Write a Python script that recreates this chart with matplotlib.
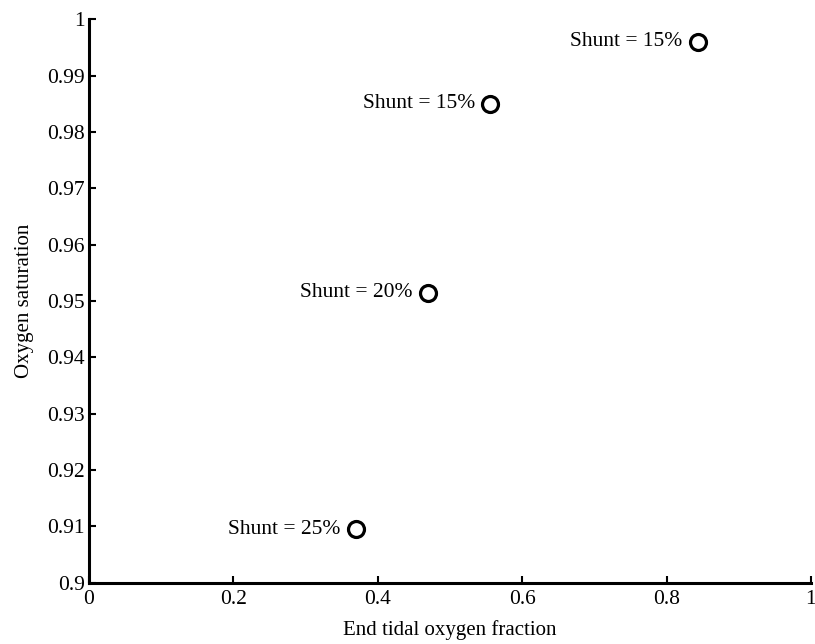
import matplotlib
matplotlib.use("Agg")
import matplotlib.pyplot as plt

# End tidal O2 fraction vs. arterial saturation for several shunt levels
end_tidal_o2 = [0.843, 0.556, 0.47, 0.37]
saturation = [0.996, 0.985, 0.9515, 0.9095]
labels = ["Shunt = 15%", "Shunt = 15%", "Shunt = 20%", "Shunt = 25%"]

x_ticks = [0, 0.2, 0.4, 0.6, 0.8, 1]
x_tick_labels = ["0", "0.2", "0.4", "0.6", "0.8", "1"]
y_ticks = [0.9, 0.91, 0.92, 0.93, 0.94, 0.95, 0.96, 0.97, 0.98, 0.99, 1]
y_tick_labels = ["0.9", "0.91", "0.92", "0.93", "0.94", "0.95", "0.96",
                 "0.97", "0.98", "0.99", "1"]

plt.rcParams["font.family"] = ["Liberation Serif", "DejaVu Serif"]

fig = plt.figure(figsize=(8.15, 6.44), dpi=100)
ax = fig.add_axes([0.109, 0.095, 0.886, 0.875])

ax.plot(end_tidal_o2, saturation, linestyle="none", marker="o",
        markersize=11.5, markerfacecolor="white", markeredgecolor="black",
        markeredgewidth=2.3)

for x, y, s in zip(end_tidal_o2, saturation, labels):
    ax.annotate(s, (x, y), xytext=(-11, 0), textcoords="offset points",
                ha="right", va="center", fontsize=15.5)

ax.set_xlim(0, 1)
ax.set_ylim(0.9, 1)
ax.set_xticks(x_ticks)
ax.set_xticklabels(x_tick_labels)
ax.set_yticks(y_ticks)
ax.set_yticklabels(y_tick_labels)

for side in ("top", "right"):
    ax.spines[side].set_visible(False)
for side in ("left", "bottom"):
    ax.spines[side].set_linewidth(2.2)

ax.tick_params(axis="both", direction="in", length=5, width=1.5, labelsize=15.5)
ax.tick_params(axis="x", pad=5)
ax.tick_params(axis="y", pad=3)

ax.set_xlabel("End tidal oxygen fraction", fontsize=15, labelpad=8)
ax.set_ylabel("Oxygen saturation", fontsize=15, labelpad=9)

fig.savefig("out.png", dpi=100)
